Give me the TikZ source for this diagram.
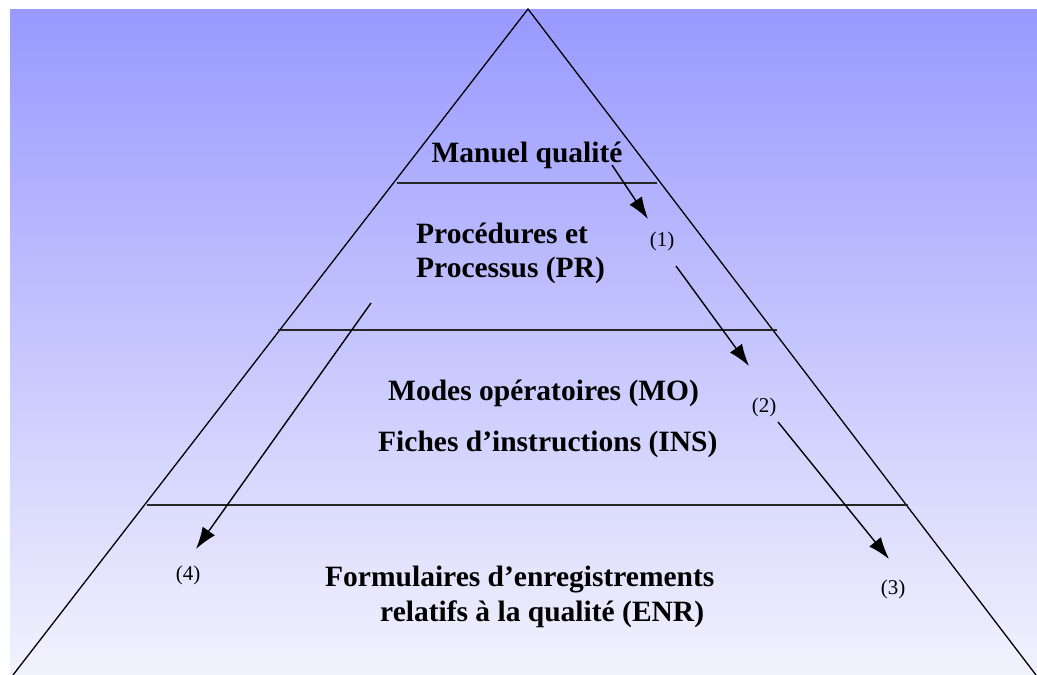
\documentclass[tikz,border=0pt]{standalone}
\usepackage{fontspec}
\setmainfont{Liberation Serif}
\usetikzlibrary{arrows.meta,positioning}

\begin{document}
\begin{tikzpicture}[x=1pt,y=-1pt]
\tikzstyle{level}=[font=\fontsize{29.5}{33}\selectfont\bfseries, inner sep=0pt, anchor=base west]
\tikzstyle{num}=[font=\fontsize{21}{23}\selectfont, inner sep=0pt]
\tikzstyle{edge}=[line width=1.3pt, black]
\tikzstyle{sep}=[line width=1.6pt, black!85]
\tikzstyle{flow}=[-{Latex[length=22pt,width=15pt]}, line width=1.4pt]
\useasboundingbox (0,0) rectangle (1037,675);
\shade[top color={rgb,255:red,153;green,153;blue,255}, bottom color={rgb,255:red,242;green,242;blue,253}] (10,9) rectangle (1037,675);
% pyramid
\coordinate (Apex) at (528,9);
\coordinate (BaseL) at (13,675);
\coordinate (BaseR) at (1036,675);
\draw[edge] (BaseL) -- (Apex) -- (BaseR);
% levels
\coordinate (S1l) at (397,183); \coordinate (S1r) at (657,183);
\coordinate (S2l) at (278,330); \coordinate (S2r) at (777,330);
\coordinate (S3l) at (147,505); \coordinate (S3r) at (908,505);
\draw[sep] (S1l) -- (S1r);
\draw[sep] (S2l) -- (S2r);
\draw[sep] (S3l) -- (S3r);
% texts
\node[level, anchor=base] (Manuel) at (527,162) {Manuel qualité};
\node[level] (Proc) at (416,243) {Procédures et};
\node[level] (Process) at (416,277) {Processus (PR)};
\node[level] (Modes) at (388,400) {Modes opératoires (MO)};
\node[level] (Fiches) at (378,451) {Fiches d’instructions (INS)};
\node[level] (Formul) at (325,586) {Formulaires d’enregistrements};
\node[level] (Relatif) at (380,621) {relatifs à la qualité (ENR)};
% numbers
\node[num] (N1) at (662,241) {(1)};
\node[num] (N2) at (764,407) {(2)};
\node[num] (N3) at (893,589) {(3)};
\node[num] (N4) at (188,575) {(4)};
% arrows
\coordinate (A1s) at (612,165); \coordinate (A1e) at (648,219);
\coordinate (A2s) at (676,266); \coordinate (A2e) at (749,366);
\coordinate (A3s) at (778,422); \coordinate (A3e) at (889,559);
\coordinate (A4s) at (371,303); \coordinate (A4e) at (196,549);
\draw[flow] (A1s) -- (A1e);
\draw[flow] (A2s) -- (A2e);
\draw[flow] (A3s) -- (A3e);
\draw[flow] (A4s) -- (A4e);
\end{tikzpicture}
\end{document}
